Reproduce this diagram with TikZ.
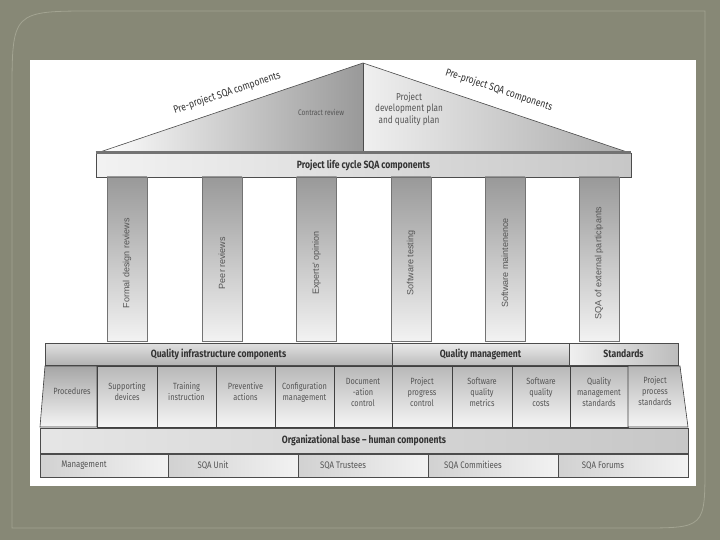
\documentclass[tikz,border=0pt]{standalone}
\usepackage{fontspec}
\setmainfont{Fira Sans}[FakeStretch=0.82]
\setsansfont{Fira Sans}[FakeStretch=0.82]
\newfontfamily\pillarfamily{Liberation Sans}
\usepackage{tikz}
\usetikzlibrary{positioning,calc}
\definecolor{SlideOlive}{HTML}{878876}
\definecolor{FrameLine}{HTML}{A3A492}
\definecolor{InkGray}{HTML}{333333}
\definecolor{SoftInk}{HTML}{555555}
\newcommand{\sqatitle}{\sffamily\fontsize{10.5}{12}\selectfont\bfseries}
\newcommand{\sqasmall}{\sffamily\fontsize{9}{11}\selectfont}
\newcommand{\sqabase}{\sffamily\fontsize{9.5}{11}\selectfont}
\newcommand{\sqacol}{\pillarfamily\fontsize{9}{10}\selectfont}
\newcommand{\sqaroof}{\sffamily\fontsize{10.5}{12}\selectfont}

\begin{document}
\begin{tikzpicture}[x=1pt, y=-1pt, font=\sffamily,
    frameline/.style={draw=FrameLine, line width=0.8pt},
    roofline/.style={draw=black!70, line width=0.6pt},
    bar/.style={rectangle, draw=black!70, line width=0.6pt, inner sep=0pt,
                text=InkGray, font=\sqatitle},
    colbox/.style={rectangle, draw=black!55, line width=0.5pt,
                   top color=black!40, bottom color=black!5,
                   minimum width=40pt, minimum height=164pt, inner sep=0pt},
    coltext/.style={rotate=90, xshift=-4pt, font=\sqacol, text=SoftInk},
    cell/.style={rectangle, draw=black!75, line width=0.6pt,
                 top color=black!28, bottom color=black!4,
                 minimum height=61pt, inner sep=0pt},
    celltext/.style={align=center, font=\sqasmall, text=SoftInk},
    cellabel/.style={celltext, yshift=4.5pt},
    basebox/.style={rectangle, draw=black!70, line width=0.6pt,
                    left color=black!18, right color=black!5,
                    minimum height=23pt, inner sep=0pt},
    basetext/.style={xshift=-20pt, font=\sqabase, text=SoftInk},
    rooftext/.style={font=\sqaroof, text=InkGray},
  ]
  \useasboundingbox (0,0) rectangle (720,540);
  \fill[SlideOlive] (0,0) rectangle (720,540);
  \draw[frameline] (12,528) -- (12,95) .. controls (12,11) .. (95,11)
                   -- (705,11) -- (705,465) .. controls (705,528) .. (640,528)
                   -- cycle;
  \fill[white] (30,60) rectangle (696,486);

  % roof
  \shade[left color=white, right color=black!40]
        (97,153) -- (363,63) -- (363,153) -- cycle;
  \shade[left color=black!6, right color=black!33]
        (363,153) -- (363,63) -- (630,153) -- cycle;
  \draw[roofline] (97,153) -- (363,63) -- (630,153);
  \draw[roofline] (363,63) -- (363,153);
  \node[rooftext, rotate=18.5] (preL) at (227,93) {Pre-project SQA components};
  \node[rooftext, rotate=-18.5] (preR) at (499,90) {Pre-project SQA components};
  \node[celltext, font=\sffamily\fontsize{8}{9}\selectfont] (contract) at (321,112)
       {Contract review};
  \node[celltext, font=\sffamily\fontsize{10}{11.5}\selectfont] (devplan) at (409,109)
       {Project\\development plan\\and quality plan};

  \node[bar, minimum width=535pt, minimum height=24pt,
        left color=black!5, right color=black!22] (life) at (363.5,165)
       {Project life cycle SQA components};
  \draw[black!55, line width=2.5pt] (life.north west) -- (life.north east);

  % pillars
  \node[colbox, label={[coltext]center:Formal design reviews}] (fdr) at (127,259) {};
  \node[colbox, label={[coltext]center:Peer reviews}] (peer) at (222,259) {};
  \node[colbox, label={[coltext]center:Experts' opinion}] (expert) at (316.5,259) {};
  \node[colbox, label={[coltext]center:Software testing}] (test) at (411,259) {};
  \node[colbox, label={[coltext]center:Software maintenence}] (maint) at (505,259) {};
  \node[colbox, label={[coltext]center:SQA of external participants}] (extern) at (599,259) {};

  % infrastructure, management, standards
  \node[bar, minimum width=347pt, minimum height=22pt,
        top color=black!12, bottom color=black!30] (infra) at (218.5,354)
       {Quality infrastructure components};
  \node[bar, minimum width=177pt, minimum height=22pt,
        top color=black!8, bottom color=black!26] (qman) at (480.5,354)
       {Quality management};
  \node[bar, minimum width=109pt, minimum height=22pt,
        left color=black!6, right color=black!26] (stds) at (623.5,354)
       {Standards};

  \draw[cell, top color=black!35] (45,366) -- (97,366) -- (97,427) -- (40,427) -- cycle;
  \node[celltext] (proc) at (72,391) {Procedures};
  \node[cell, minimum width=60pt, label={[cellabel]center:Supporting\\devices}] (supp) at (127,396.5) {};
  \node[cell, minimum width=59pt, label={[cellabel]center:Training\\instruction}] (train) at (186.5,396.5) {};
  \node[cell, minimum width=59pt, label={[cellabel]center:Preventive\\actions}] (prev) at (245.5,396.5) {};
  \node[cell, minimum width=59pt, label={[cellabel]center:Configuration\\management}] (config) at (304.5,396.5) {};
  \node[cell, minimum width=58pt, label={[cellabel]center:Document\\-ation\\control}] (docu) at (363,396.5) {};
  \node[cell, minimum width=60pt, label={[cellabel]center:Project\\progress\\control}] (progress) at (422,396.5) {};
  \node[cell, minimum width=60pt, label={[cellabel]center:Software\\quality\\metrics}] (metrics) at (482,396.5) {};
  \node[cell, minimum width=58pt, label={[cellabel]center:Software\\quality\\costs}] (costs) at (541,396.5) {};
  \node[cell, minimum width=58pt, label={[cellabel]center:Quality\\management\\standards}] (qmstd) at (599,396.5) {};
  \draw[cell] (628,366) -- (680,366) -- (688,427) -- (628,427) -- cycle;
  \node[celltext] (ppstd) at (655,391) {Project\\process\\standards};

  % organizational base
  \node[bar, minimum width=648pt, minimum height=25pt,
        left color=black!10, right color=black!22] (orgbase) at (364,440.5)
       {Organizational base -- human components};
  \node[basebox, minimum width=128pt, label={[basetext]center:Management}] (mgmt) at (104,465.5) {};
  \node[basebox, minimum width=130pt, label={[basetext]center:SQA Unit}] (unit) at (233,465.5) {};
  \node[basebox, minimum width=130pt, label={[basetext]center:SQA Trustees}] (trust) at (363,465.5) {};
  \node[basebox, minimum width=130pt, label={[basetext]center:SQA Commitiees}] (commit) at (493,465.5) {};
  \node[basebox, minimum width=130pt, label={[basetext]center:SQA Forums}] (forum) at (623,465.5) {};
\end{tikzpicture}
\end{document}
